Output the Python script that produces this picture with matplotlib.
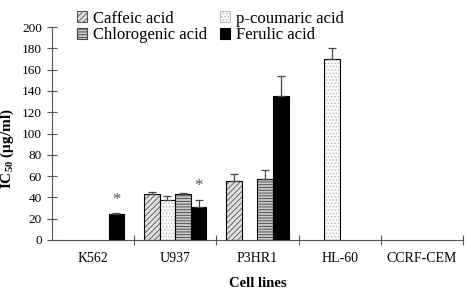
import matplotlib.pyplot as plt
import matplotlib.patches as mpatches
import numpy as np

plt.rcParams['font.family'] = ['Liberation Serif', 'DejaVu Serif']
plt.rcParams['mathtext.fontset'] = 'custom'
plt.rcParams['mathtext.rm'] = 'Liberation Serif'
plt.rcParams['mathtext.bf'] = 'Liberation Serif:bold'
plt.rcParams['hatch.linewidth'] = 0.6

cells = ['K562', 'U937', 'P3HR1', 'HL-60', 'CCRF-CEM']
caffeic = [0, 43, 55, 0, 0]
caffeic_err = [0, 2, 7, 0, 0]
coumaric = [0, 38, 0, 170, 0]
coumaric_err = [0, 3, 0, 10, 0]
chlorogenic = [0, 43, 57, 0, 0]
chlorogenic_err = [0, 1, 9, 0, 0]
ferulic = [24, 31, 135, 0, 0]
ferulic_err = [1, 7, 19, 0, 0]

x = np.arange(len(cells))
width = 0.19

fig = plt.figure(figsize=(4.71, 2.97), dpi=100)
ax = fig.add_axes([0.110, 0.192, 0.873, 0.717])

# (values, errors, label, face, hatch, hatch colour)
series = [
    (caffeic, caffeic_err, 'Caffeic acid', '#e0e0e0', '//////', '#555555'),
    (coumaric, coumaric_err, 'p-coumaric acid', '#fafafa', '.....', '#bbbbbb'),
    (chlorogenic, chlorogenic_err, 'Chlorogenic acid', '#c8c8c8', '------', '#444444'),
    (ferulic, ferulic_err, 'Ferulic acid', 'black', '', 'black'),
]

handles = {}
for i, (vals, errs, lab, face, hatch, hcol) in enumerate(series):
    pos = x + (i - 1.5) * width
    vals = np.array(vals, dtype=float)
    errs = np.array(errs, dtype=float)
    show = vals > 0
    # fill + hatch, then outline
    ax.bar(pos[show], vals[show], width, color=face, hatch=hatch,
           edgecolor=hcol, linewidth=0)
    ax.bar(pos[show], vals[show], width, fill=False, edgecolor='black', linewidth=0.8)
    ax.errorbar(pos[show], vals[show], yerr=[np.zeros(show.sum()), errs[show]],
                fmt='none', ecolor='#444444', elinewidth=0.9, capsize=3, capthick=0.9)
    handles[lab] = mpatches.Patch(facecolor=face, hatch=hatch, edgecolor=hcol, linewidth=0.8)

# significance marks on ferulic acid
for i in [0, 1]:
    ax.text(x[i] + 1.5 * width, ferulic[i] + ferulic_err[i] + 5, '*',
            ha='center', va='bottom', fontsize=12, color='#555555')

ax.set_xlim(-0.5, len(cells) - 0.5)
ax.set_ylim(0, 200)
ax.set_yticks(np.arange(0, 201, 20))
ax.set_xticks(np.arange(0.5, len(cells) - 0.4, 1))
ax.set_xticklabels([])
ax.set_xticks(x, minor=True)
ax.set_xticklabels(cells, minor=True)
ax.tick_params(axis='x', which='minor', length=0, pad=9, labelsize=10)
ax.tick_params(axis='x', which='major', direction='inout', length=7, color='#555555')
ax.tick_params(axis='y', direction='inout', length=7, labelsize=9.5, color='#555555')

for s in ['top', 'right']:
    ax.spines[s].set_visible(False)
for s in ['left', 'bottom']:
    ax.spines[s].set_color('#555555')

ax.set_ylabel(r'$\mathbf{IC_{50}}$ ($\mathbf{\mu}$g/ml)', fontsize=11, fontweight='bold')
ax.yaxis.set_label_coords(-0.087, 0.43)
ax.set_xlabel('Cell lines', fontsize=10.5, fontweight='bold', labelpad=8)

order = ['Caffeic acid', 'Chlorogenic acid', 'p-coumaric acid', 'Ferulic acid']
fig.legend(handles=[handles[k] for k in order], labels=order, ncol=2,
           loc='upper left', bbox_to_anchor=(0.132, 1.015), frameon=False,
           fontsize=12, handlelength=0.6, handleheight=0.6, handletextpad=0.35,
           columnspacing=0.8, labelspacing=0.05)

fig.savefig('out.png', dpi=100)
